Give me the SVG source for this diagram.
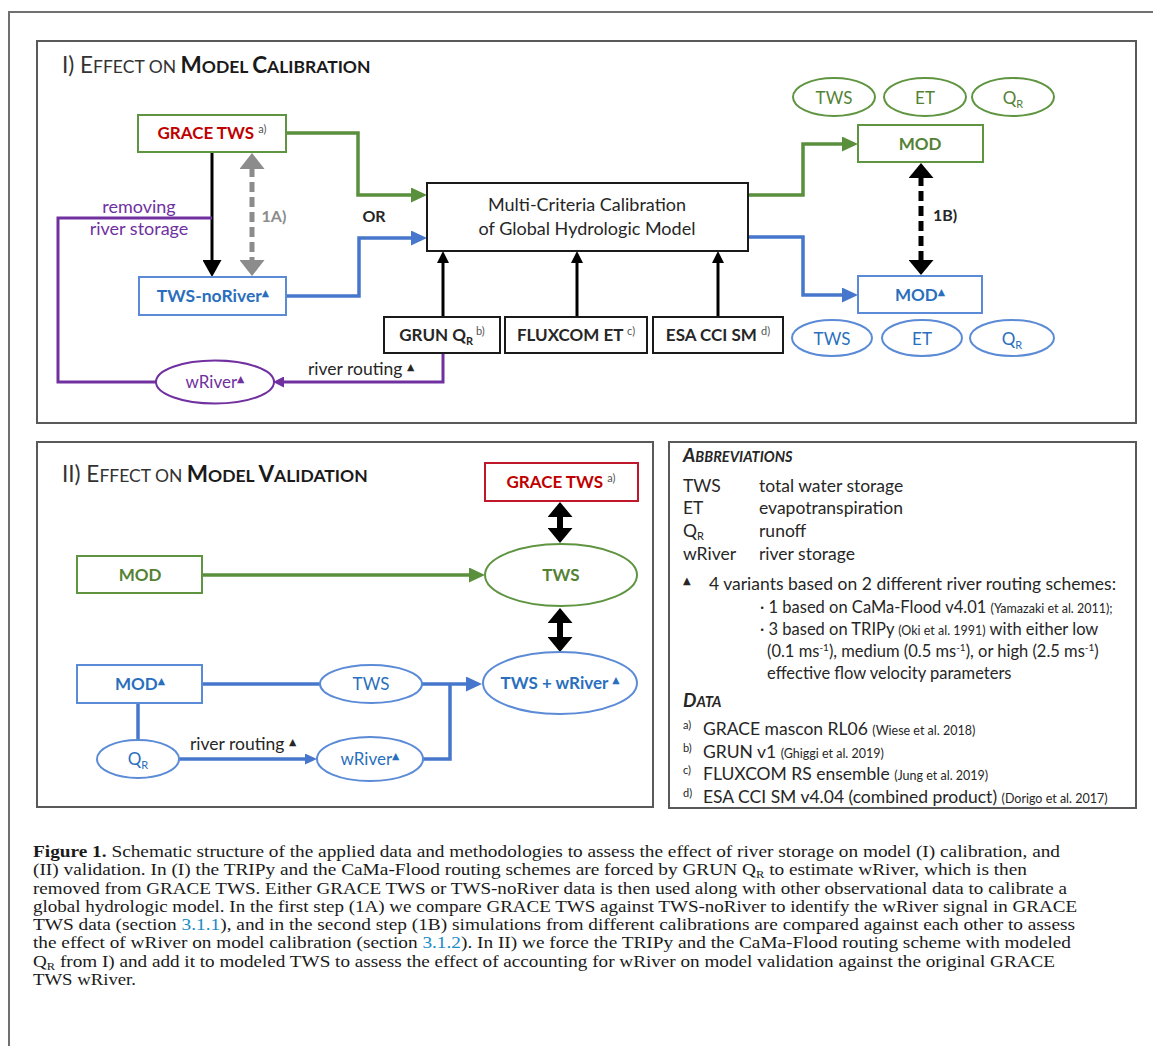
<svg xmlns="http://www.w3.org/2000/svg" width="1153" height="1046" viewBox="0 0 1153 1046">
<style>
text{font-family:Lato,"Open Sans","DejaVu Sans",sans-serif;fill:#262626}
.frame{fill:none;stroke:#707070;stroke-width:2}
.panel{fill:#fff;stroke:#595959;stroke-width:2}
.gbox{fill:#fff;stroke:#5f9440;stroke-width:2}
.bbox{fill:#fff;stroke:#5b8bd6;stroke-width:2}
.kbox{fill:#fff;stroke:#1a1a1a;stroke-width:2}
.rbox{fill:#fff;stroke:#c0182a;stroke-width:2}
.pell{fill:#fff;stroke:#7030a0;stroke-width:2}
.gell{fill:#fff;stroke:#5f9440;stroke-width:2}
.bell{fill:#fff;stroke:#5b8bd6;stroke-width:2}
.title{font-size:22.5px;fill:#333}
.sc{font-size:17.5px}
.nb{font-size:17px;font-weight:bold;text-anchor:middle}
.nt{font-size:17px;text-anchor:middle}
.green{fill:#548235}
.blue{fill:#2a6fbd}
.red{fill:#c00000}
.purple{fill:#7030a0}
.sup{font-size:11px;font-weight:normal;fill:#555}
.tri{font-family:"DejaVu Sans",sans-serif;font-size:9.5px}
.ab{font-size:17.5px}
.abs{font-size:16.5px}
.cit{font-size:12.5px}
.cap{font-family:"Liberation Serif","Times New Roman",serif;font-size:17px;fill:#1a1a1a}
.lg{fill:none;stroke:#5a8f3c;stroke-width:3.5}
.lb{fill:none;stroke:#4677cc;stroke-width:3.5}
.lp{fill:none;stroke:#7030a0;stroke-width:3}
.lk{fill:none;stroke:#000;stroke-width:3}
</style>
<defs>
<marker id="mG" markerUnits="userSpaceOnUse" markerWidth="16" markerHeight="15" refX="2" refY="7.5" orient="auto"><path d="M0,0 L16,7.5 L0,15 z" fill="#5a8f3c"/></marker>
<marker id="mB" markerUnits="userSpaceOnUse" markerWidth="16" markerHeight="15" refX="2" refY="7.5" orient="auto"><path d="M0,0 L16,7.5 L0,15 z" fill="#4677cc"/></marker>
<marker id="mBs" markerUnits="userSpaceOnUse" markerWidth="12" markerHeight="11" refX="2" refY="5.5" orient="auto"><path d="M0,0 L12,5.5 L0,11 z" fill="#4677cc"/></marker>
<marker id="mP" markerUnits="userSpaceOnUse" markerWidth="11" markerHeight="11" refX="2" refY="5.5" orient="auto"><path d="M0,0 L11,5.5 L0,11 z" fill="#7030a0"/></marker>
<marker id="mK" markerUnits="userSpaceOnUse" markerWidth="12" markerHeight="12" refX="2" refY="6" orient="auto"><path d="M0,0 L12,6 L0,12 z" fill="#000"/></marker>
<marker id="mK2" markerUnits="userSpaceOnUse" markerWidth="17" markerHeight="19" refX="2" refY="9.5" orient="auto"><path d="M0,0 L17,9.5 L0,19 z" fill="#000"/></marker>
<marker id="mGray" markerUnits="userSpaceOnUse" markerWidth="16" markerHeight="25" refX="2" refY="12.5" orient="auto-start-reverse"><path d="M0,0 L16,12.5 L0,25 z" fill="#8c8c8c"/></marker>
<marker id="mKD" markerUnits="userSpaceOnUse" markerWidth="15" markerHeight="25" refX="2" refY="12.5" orient="auto-start-reverse"><path d="M0,0 L15,12.5 L0,25 z" fill="#000"/></marker>
</defs>

<rect class="frame" x="9" y="12" width="1160" height="1050"/>

<g id="panel-calibration">
<rect class="panel" x="37" y="41" width="1099" height="382"/>
<text class="title" x="62" y="73">I) E<tspan class="sc">FFECT ON </tspan><tspan font-weight="bold" fill="#1a1a1a">M</tspan><tspan class="sc" font-weight="bold" fill="#1a1a1a">ODEL </tspan><tspan font-weight="bold" fill="#1a1a1a">C</tspan><tspan class="sc" font-weight="bold" fill="#1a1a1a">ALIBRATION</tspan></text>
</g>

<g id="connectors">
<path class="lk" d="M212,152 V262" marker-end="url(#mK2)"/>
<path d="M252,167 V262" fill="none" stroke="#8c8c8c" stroke-width="5" stroke-dasharray="10,5" marker-start="url(#mGray)" marker-end="url(#mGray)"/>
<path class="lg" d="M286,133 H358 V195 H413" marker-end="url(#mG)"/>
<path class="lb" d="M286,296 H359 V238 H413" marker-end="url(#mB)"/>
<path class="lp" d="M212,218 H58 V382 H156"/>
<path class="lp" d="M443,353 V382 H282" marker-end="url(#mP)"/>
<path class="lk" d="M443,317 V261" marker-end="url(#mK)"/>
<path class="lk" d="M577,317 V261" marker-end="url(#mK)"/>
<path class="lk" d="M718,317 V261" marker-end="url(#mK)"/>
<path class="lb" d="M748,237 H803 V295 H844" marker-end="url(#mB)"/>
<path class="lg" d="M748,195 H803 V144 H844" marker-end="url(#mG)"/>
<path d="M921,176 V262" fill="none" stroke="#000" stroke-width="5" stroke-dasharray="10,5" marker-start="url(#mKD)" marker-end="url(#mKD)"/>
<path class="lg" d="M202,575 H471" marker-end="url(#mG)"/>
<path d="M560,515 V530" fill="none" stroke="#000" stroke-width="6" marker-start="url(#mKD)" marker-end="url(#mKD)"/>
<path d="M560,621 V639" fill="none" stroke="#000" stroke-width="6" marker-start="url(#mKD)" marker-end="url(#mKD)"/>
<path class="lb" d="M202,684 H320"/>
<path class="lb" d="M422,684 H468" marker-end="url(#mB)"/>
<path class="lb" d="M423,759 H450 V684"/>
<path class="lb" d="M138,703 V741"/>
<path class="lb" d="M179,759 H307" marker-end="url(#mBs)"/>
</g>

<g id="labels-I">
<text class="nb" x="274" y="222" style="fill:#8c8c8c;font-size:16px">1A)</text>
<text class="nb" x="374" y="222" style="font-size:16px">OR</text>
<text class="nt purple" x="139" y="213" style="font-size:18px">removing</text>
<text class="nt purple" x="139" y="235" style="font-size:18px">river storage</text>
<text x="308" y="375" style="font-size:17.5px">river routing <tspan class="tri" dy="-5">▲</tspan></text>
<text class="nb" x="945" y="221" style="font-size:16px">1B)</text>
</g>

<g id="n-grace-tws">
<rect class="gbox" x="138" y="115" width="148" height="37"/>
<text class="nb red" x="212" y="139">GRACE TWS <tspan class="sup" dy="-6">a)</tspan></text>
</g>
<g id="n-tws-noriver">
<rect class="bbox" x="139" y="277" width="147" height="38"/>
<text class="nb blue" x="213" y="302" style="font-size:17.5px">TWS-noRiver<tspan class="tri" dy="-6">▲</tspan></text>
</g>
<g id="n-calibration">
<rect class="kbox" x="427" y="183" width="321" height="68"/>
<text class="nt" x="587" y="211" style="font-size:18px">Multi-Criteria Calibration</text>
<text class="nt" x="587" y="235" style="font-size:18px">of Global Hydrologic Model</text>
</g>
<g id="n-grun">
<rect class="kbox" x="384" y="317" width="116" height="36"/>
<text class="nb" x="442" y="341">GRUN Q<tspan font-size="11" dy="4">R</tspan><tspan class="sup" dy="-10"> b)</tspan></text>
</g>
<g id="n-fluxcom">
<rect class="kbox" x="505" y="317" width="142" height="36"/>
<text class="nb" x="576" y="341">FLUXCOM ET <tspan class="sup" dy="-6">c)</tspan></text>
</g>
<g id="n-esa">
<rect class="kbox" x="653" y="317" width="130" height="36"/>
<text class="nb" x="718" y="341">ESA CCI SM <tspan class="sup" dy="-6">d)</tspan></text>
</g>
<g id="n-wriver">
<ellipse class="pell" cx="215" cy="382" rx="59" ry="21.5"/>
<text class="nt purple" x="215" y="388">wRiver<tspan class="tri" dy="-6">▲</tspan></text>
</g>
<g id="n-mod">
<rect class="gbox" x="858" y="125" width="125" height="37"/>
<text class="nb green" x="920" y="150">MOD</text>
</g>
<g id="n-mod-tri">
<rect class="bbox" x="858" y="276" width="124" height="37"/>
<text class="nb blue" x="920" y="301">MOD<tspan class="tri" dy="-6">▲</tspan></text>
</g>
<g id="n-mod-outputs">
<ellipse class="gell" cx="834" cy="97" rx="41" ry="19"/>
<text class="nt green" x="834" y="104">TWS</text>
<ellipse class="gell" cx="925" cy="97" rx="41" ry="19"/>
<text class="nt green" x="925" y="104">ET</text>
<ellipse class="gell" cx="1013" cy="97" rx="41" ry="19"/>
<text class="nt green" x="1013" y="104">Q<tspan font-size="11" dy="4">R</tspan></text>
</g>
<g id="n-modtri-outputs">
<ellipse class="bell" cx="832" cy="338" rx="40" ry="18"/>
<text class="nt blue" x="832" y="345">TWS</text>
<ellipse class="bell" cx="922" cy="338" rx="40" ry="18"/>
<text class="nt blue" x="922" y="345">ET</text>
<ellipse class="bell" cx="1012" cy="338" rx="42" ry="18"/>
<text class="nt blue" x="1012" y="345">Q<tspan font-size="11" dy="4">R</tspan></text>
</g>

<g id="panel-validation">
<rect x="37" y="442" width="616" height="365" style="fill:none;stroke:#595959;stroke-width:2"/>
<text class="title" x="62" y="482">II) E<tspan class="sc">FFECT ON </tspan><tspan font-weight="bold" fill="#1a1a1a">M</tspan><tspan class="sc" font-weight="bold" fill="#1a1a1a">ODEL </tspan><tspan font-weight="bold" fill="#1a1a1a">V</tspan><tspan class="sc" font-weight="bold" fill="#1a1a1a">ALIDATION</tspan></text>
<text x="190" y="750" style="font-size:17.5px">river routing <tspan class="tri" dy="-5">▲</tspan></text>
</g>
<g id="n2-mod">
<rect class="gbox" x="77" y="556" width="125" height="37"/>
<text class="nb green" x="140" y="581">MOD</text>
</g>
<g id="n2-mod-tri">
<rect class="bbox" x="77" y="665" width="125" height="38"/>
<text class="nb blue" x="140" y="690">MOD<tspan class="tri" dy="-6">▲</tspan></text>
</g>
<g id="n2-grace">
<rect class="rbox" x="485" y="463" width="153" height="38"/>
<text class="nb red" x="561" y="488">GRACE TWS <tspan class="sup" dy="-6">a)</tspan></text>
</g>
<g id="n2-tws-green">
<ellipse class="gell" cx="561" cy="575" rx="76" ry="31"/>
<text class="nb green" x="561" y="581">TWS</text>
</g>
<g id="n2-tws-wriver">
<ellipse class="bell" cx="560" cy="683" rx="77" ry="31"/>
<text class="nb blue" x="560" y="689">TWS + wRiver <tspan class="tri" dy="-6">▲</tspan></text>
</g>
<g id="n2-tws-blue">
<ellipse class="bell" cx="371" cy="684" rx="51" ry="19"/>
<text class="nt blue" x="371" y="690">TWS</text>
</g>
<g id="n2-qr">
<ellipse class="bell" cx="138" cy="759" rx="41" ry="19"/>
<text class="nt blue" x="138" y="765">Q<tspan font-size="11" dy="4">R</tspan></text>
</g>
<g id="n2-wriver">
<ellipse class="bell" cx="370" cy="759" rx="53" ry="22"/>
<text class="nt blue" x="370" y="765">wRiver<tspan class="tri" dy="-6">▲</tspan></text>
</g>

<g id="legend">
<rect class="panel" x="669" y="442" width="467" height="366"/>
<text x="683" y="462" font-weight="bold" font-style="italic" font-size="19">A<tspan font-size="14.5">BBREVIATIONS</tspan></text>
<text class="ab" x="683" y="492">TWS</text><text class="ab" x="759" y="492">total water storage</text>
<text class="ab" x="683" y="514">ET</text><text class="ab" x="759" y="514">evapotranspiration</text>
<text class="ab" x="683" y="537">Q<tspan font-size="11" dy="3">R</tspan></text><text class="ab" x="759" y="537">runoff</text>
<text class="ab" x="683" y="560">wRiver</text><text class="ab" x="759" y="560">river storage</text>
<text class="tri" x="683" y="584" style="font-size:10px">▲</text>
<text class="ab" x="709" y="590">4 variants based on 2 different river routing schemes:</text>
<text class="abs" x="760" y="613">· 1 based on CaMa-Flood v4.01 <tspan class="cit">(Yamazaki et al. 2011);</tspan></text>
<text class="abs" x="760" y="635">· 3 based on TRIPy <tspan class="cit">(Oki et al. 1991)</tspan> with either low</text>
<text class="abs" x="767" y="657">(0.1 ms<tspan font-size="10" dy="-6">-1</tspan><tspan dy="6">), medium (0.5 ms</tspan><tspan font-size="10" dy="-6">-1</tspan><tspan dy="6">), or high (2.5 ms</tspan><tspan font-size="10" dy="-6">-1</tspan><tspan dy="6">)</tspan></text>
<text class="abs" x="767" y="679">effective flow velocity parameters</text>
<text x="683" y="707" font-weight="bold" font-style="italic" font-size="19">D<tspan font-size="14.5">ATA</tspan></text>
<text class="sup" x="683" y="729" style="fill:#262626">a)</text><text class="ab" x="703" y="735">GRACE mascon RL06 <tspan class="cit">(Wiese et al. 2018)</tspan></text>
<text class="sup" x="683" y="752" style="fill:#262626">b)</text><text class="ab" x="703" y="758">GRUN v1 <tspan class="cit">(Ghiggi et al. 2019)</tspan></text>
<text class="sup" x="683" y="774" style="fill:#262626">c)</text><text class="ab" x="703" y="780">FLUXCOM RS ensemble <tspan class="cit">(Jung et al. 2019)</tspan></text>
<text class="sup" x="683" y="797" style="fill:#262626">d)</text><text class="ab" x="703" y="803">ESA CCI SM v4.04 (combined product) <tspan class="cit">(Dorigo et al. 2017)</tspan></text>
</g>

<g id="caption">
<text class="cap" x="33" y="857" textLength="1027" lengthAdjust="spacingAndGlyphs"><tspan font-weight="bold">Figure 1.</tspan> Schematic structure of the applied data and methodologies to assess the effect of river storage on model (I) calibration, and</text>
<text class="cap" x="33" y="875" textLength="994" lengthAdjust="spacingAndGlyphs">(II) validation. In (I) the TRIPy and the CaMa-Flood routing schemes are forced by GRUN Q<tspan font-size="11" dy="3">R</tspan><tspan dy="-3"> to estimate wRiver, which is then</tspan></text>
<text class="cap" x="33" y="894" textLength="1034" lengthAdjust="spacingAndGlyphs">removed from GRACE TWS. Either GRACE TWS or TWS-noRiver data is then used along with other observational data to calibrate a</text>
<text class="cap" x="33" y="912" textLength="1044" lengthAdjust="spacingAndGlyphs">global hydrologic model. In the first step (1A) we compare GRACE TWS against TWS-noRiver to identify the wRiver signal in GRACE</text>
<text class="cap" x="33" y="930" textLength="1042" lengthAdjust="spacingAndGlyphs">TWS data (section <tspan fill="#1a8bc7">3.1.1</tspan>), and in the second step (1B) simulations from different calibrations are compared against each other to assess</text>
<text class="cap" x="33" y="948" textLength="1038" lengthAdjust="spacingAndGlyphs">the effect of wRiver on model calibration (section <tspan fill="#1a8bc7">3.1.2</tspan>). In II) we force the TRIPy and the CaMa-Flood routing scheme with modeled</text>
<text class="cap" x="33" y="967" textLength="1022" lengthAdjust="spacingAndGlyphs">Q<tspan font-size="11" dy="3">R</tspan><tspan dy="-3"> from I) and add it to modeled TWS to assess the effect of accounting for wRiver on model validation against the original GRACE</tspan></text>
<text class="cap" x="33" y="985" textLength="103" lengthAdjust="spacingAndGlyphs">TWS wRiver.</text>
</g>
</svg>
